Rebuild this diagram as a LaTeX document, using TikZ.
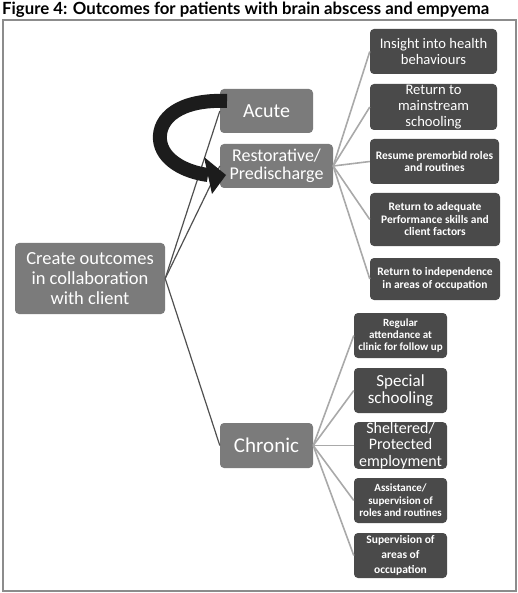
\documentclass[tikz,border=0pt]{standalone}
\usepackage{fontspec}
\usepackage{graphicx}
\setmainfont{Carlito}
\newfontfamily\titlefont{Lato}
\definecolor{midgray}{HTML}{7B7B7B}
\definecolor{darkbox}{HTML}{4A4A4A}
\definecolor{framecol}{HTML}{8C8C8C}
\definecolor{linedark}{HTML}{505050}
\definecolor{linelight}{HTML}{A9A9A9}
\definecolor{arrowcol}{HTML}{1C1C1C}
\tikzset{
  box/.style={rectangle, rounded corners=4pt, inner sep=0pt, align=center, text=white},
  parent/.style={box, fill=midgray},
  child/.style={box, fill=darkbox},
  mainline/.style={draw=linedark, line width=1.2pt},
  subline/.style={draw=linelight, line width=1.6pt},
}
\newcommand{\fs}[2]{\fontsize{#1}{#2}\selectfont}
\begin{document}
\begin{tikzpicture}[x=1pt,y=-1pt]
\useasboundingbox (0,0) rectangle (518,593);
\node[anchor=base west, inner sep=0pt] (title) at (2,15)
  {\resizebox{487pt}{!}{\titlefont\bfseries\fs{15}{18}Figure 4: Outcomes for patients with brain abscess and empyema}};
\draw[framecol, line width=1.3pt] (3,20) rectangle (516,591);

% parent nodes
\node[parent, minimum width=150pt, minimum height=71pt, font=\fs{18.5}{20}] (create) at (90,278.5)
  {Create outcomes\\in collaboration\\with client};
\node[parent, minimum width=93pt, minimum height=44pt, font=\fs{20}{22}] (acute) at (266.5,111) {Acute};
\node[parent, minimum width=113pt, minimum height=44pt, font=\fs{18}{18.5}] (rest) at (276.5,166)
  {Restorative/\\Predischarge};
\node[parent, minimum width=93pt, minimum height=45pt, font=\fs{21}{23}] (chronic) at (266.5,445.5) {Chronic};

% restorative children
\node[child, minimum width=127pt, minimum height=45pt, font=\fs{14.6}{16.5}] (r1) at (433.5,51.5)
  {Insight into health\\behaviours};
\node[child, minimum width=127pt, minimum height=46pt, font=\fs{14.6}{16}] (r2) at (433.5,107)
  {Return to\\mainstream\\schooling};
\node[child, minimum width=129pt, minimum height=45pt, font=\bfseries\fs{11.5}{12.5}] (r3) at (434.5,161.5)
  {Resume premorbid roles\\and routines};
\node[child, minimum width=130pt, minimum height=53pt, font=\bfseries\fs{11.5}{12.5}] (r4) at (435,219.5)
  {Return to adequate\\Performance skills and\\client factors};
\node[child, minimum width=130pt, minimum height=42pt, font=\bfseries\fs{11.5}{12.5}] (r5) at (435,279)
  {Return to independence\\in areas of occupation};

% chronic children
\node[child, minimum width=93pt, minimum height=45pt, font=\bfseries\fs{11}{12}] (c1) at (400.5,335.5)
  {Regular\\attendance at\\clinic for follow up};
\node[child, minimum width=93pt, minimum height=45pt, font=\fs{17}{17.5}] (c2) at (400.5,390.5)
  {Special\\schooling};
\node[child, minimum width=93pt, minimum height=43pt, font=\fs{16}{16.5}] (c3) at (400.5,445.5)
  {Sheltered/\\Protected\\employment};
\node[child, minimum width=93pt, minimum height=45pt, font=\bfseries\fs{11}{12.5}] (c4) at (400.5,500.5)
  {Assistance/\\supervision of\\roles and routines};
\node[child, minimum width=93pt, minimum height=45pt, font=\bfseries\fs{11.5}{15}] (c5) at (400.5,555.5)
  {Supervision of\\areas of\\occupation};

% connectors
\draw[mainline] (create.east) -- (acute.west);
\draw[mainline] (create.east) -- (rest.west);
\draw[mainline] (create.east) -- (chronic.west);
\foreach \n in {r1,r2,r3,r4,r5} \draw[subline] (rest.east) -- (\n.west);
\foreach \n in {c1,c2,c3,c4,c5} \draw[subline] (chronic.east) -- (\n.west);

% curved arrow from Acute to Restorative
\coordinate (arrstart) at (227,101);
\coordinate (arrend) at (208,175);
\draw[arrowcol, line width=14pt] (arrstart) .. controls (180,99) and (158,118) .. (160,140)
  .. controls (162,160) and (185,172) .. (arrend);
\fill[arrowcol] (204,157) -- (226,175) -- (212,194) -- cycle;
\end{tikzpicture}
\end{document}
